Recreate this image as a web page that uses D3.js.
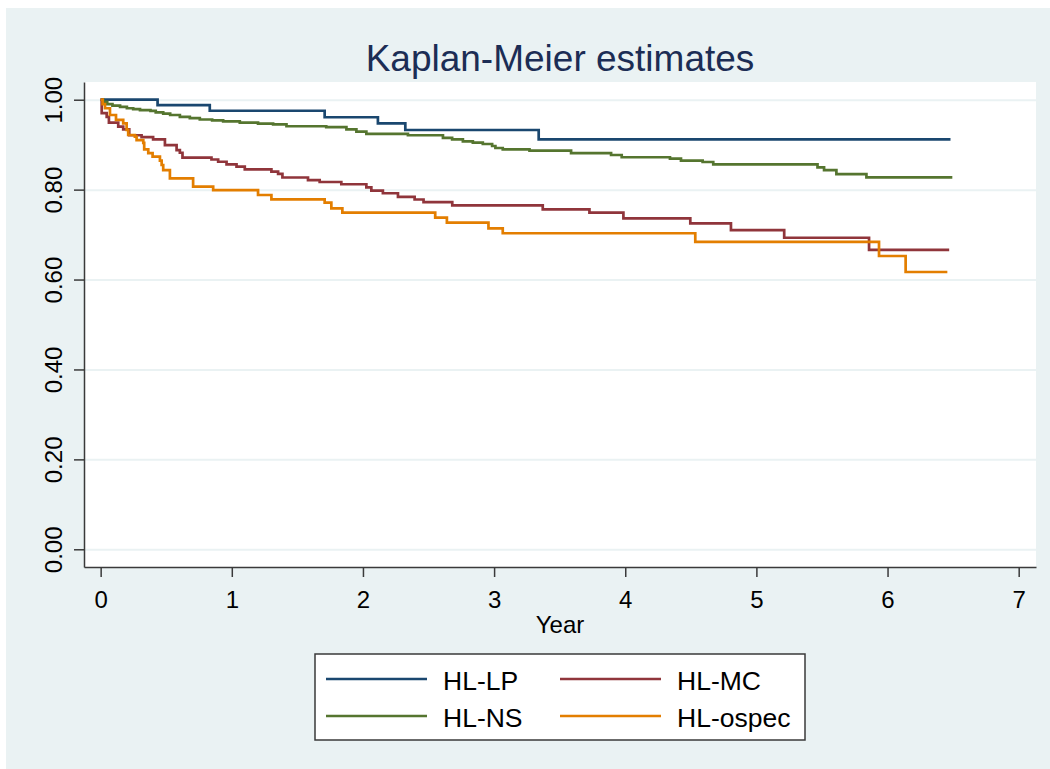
<!DOCTYPE html>
<html>
<head>
<meta charset="utf-8">
<script src="https://cdn.jsdelivr.net/npm/d3@7"></script>
<style>
  body { margin: 0; background: #ffffff; }
  svg { display: block; font-family: "Liberation Sans", Arial, sans-serif; }
  .axis text { font-size: 24px; fill: #000000; }
  .axis path, .axis line { stroke: #3a3a3a; stroke-width: 1.5px; }
  .grid line { stroke: #eaf2f3; stroke-width: 2px; }
</style>
</head>
<body>
<svg id="chart" width="1050" height="769"></svg>
<script>
// ---- data (time in years, survival estimate) ----
var seriesNames = ["HL-LP", "HL-NS", "HL-MC", "HL-ospec"];

var lpTimes = [0, 0.434, 0.832, 1.708, 2.114, 2.323, 3.34, 6.48];
var lpSurv  = [1, 0.988, 0.9755, 0.961, 0.9475, 0.9326, 0.912, 0.912];

var nsTimes = [0, 0.02, 0.05, 0.09, 0.148, 0.2, 0.248, 0.3, 0.38, 0.42, 0.477, 0.53, 0.604, 0.68, 0.756,
               0.85, 0.934, 1.061, 1.2, 1.315, 1.417, 1.72, 1.874, 1.95, 2.026, 2.343, 2.61, 2.68, 2.762,
               2.838, 2.914, 2.985, 3.01, 3.066, 3.27, 3.587, 3.892, 3.973, 4.341, 4.425, 4.59, 4.671,
               5.466, 5.516, 5.61, 5.839, 6.494];
var nsSurv  = [1, 0.995, 0.99, 0.987, 0.984, 0.981, 0.979, 0.977, 0.975, 0.972, 0.969, 0.966, 0.962, 0.959, 0.956,
               0.954, 0.952, 0.949, 0.947, 0.945, 0.941, 0.939, 0.934, 0.929, 0.924, 0.921, 0.915, 0.912, 0.9075,
               0.9044, 0.9015, 0.897, 0.8926, 0.8897, 0.8866, 0.881, 0.877, 0.872, 0.8688, 0.8643, 0.8614, 0.8563,
               0.8496, 0.8436, 0.8347, 0.8274, 0.8274];

var mcTimes = [0, 0.008, 0.046, 0.063, 0.134, 0.172, 0.218, 0.312, 0.4, 0.49, 0.579, 0.604, 0.624, 0.845,
               0.896, 0.96, 1.036, 1.099, 1.302, 1.353, 1.386, 1.581, 1.67, 1.835, 2.026, 2.064, 2.152,
               2.267, 2.394, 2.462, 2.681, 3.371, 3.727, 3.986, 4.496, 4.806, 5.212, 5.859, 6.47];
var mcSurv  = [1, 0.97, 0.962, 0.949, 0.94, 0.934, 0.921, 0.917, 0.912, 0.899, 0.888, 0.882, 0.871, 0.867,
               0.862, 0.856, 0.851, 0.845, 0.84, 0.835, 0.827, 0.821, 0.817, 0.812, 0.805, 0.798, 0.792,
               0.784, 0.778, 0.772, 0.765, 0.756, 0.749, 0.736, 0.725, 0.71, 0.693, 0.666, 0.666];

var osTimes = [0, 0.015, 0.033, 0.071, 0.117, 0.172, 0.198, 0.21, 0.261, 0.274, 0.325, 0.332, 0.363, 0.396,
               0.452, 0.465, 0.477, 0.528, 0.705, 0.858, 1.2, 1.302, 1.708, 1.759, 1.843, 2.551, 2.64,
               2.957, 3.066, 4.534, 5.935, 6.138, 6.456];
var osSurv  = [1, 0.99, 0.981, 0.966, 0.955, 0.9475, 0.933, 0.9215, 0.9177, 0.91, 0.904, 0.8897, 0.881, 0.8733,
               0.8643, 0.8548, 0.8436, 0.825, 0.8066, 0.799, 0.788, 0.7785, 0.771, 0.7584, 0.7487, 0.7376, 0.7264,
               0.714, 0.703, 0.684, 0.6524, 0.6168, 0.6168];

var xTicks = [0, 1, 2, 3, 4, 5, 6, 7];
var yTicks = [0, 0.2, 0.4, 0.6, 0.8, 1.0];

var colors = { "HL-LP": "#1a476f", "HL-NS": "#55752f", "HL-MC": "#90353b", "HL-ospec": "#e37e00" };

var series = [
  { name: "HL-LP", times: lpTimes, surv: lpSurv },
  { name: "HL-NS", times: nsTimes, surv: nsSurv },
  { name: "HL-MC", times: mcTimes, surv: mcSurv },
  { name: "HL-ospec", times: osTimes, surv: osSurv }
];

// ---- layout ----
var svgW = 1050, svgH = 769;
var margin = {top: 82, right: 14, bottom: 202, left: 84};
var width = svgW - margin.left - margin.right;
var height = svgH - margin.top - margin.bottom;

var root = d3.select("#chart");

// graph region background
root.append("rect")
    .attr("x", 6).attr("y", 8)
    .attr("width", svgW - 6).attr("height", svgH - 8)
    .attr("fill", "#eaf2f3");

// title
root.append("text")
    .attr("x", margin.left + width / 2)
    .attr("y", 71)
    .attr("text-anchor", "middle")
    .style("font-size", "37px")
    .style("fill", "#1c2d55")
    .text("Kaplan-Meier estimates");

var svg = root.append("g")
    .attr("transform", "translate(" + margin.left + "," + margin.top + ")");

// plot region
svg.append("rect")
    .attr("width", width).attr("height", height)
    .attr("fill", "#ffffff");

// ======================================================
// SET SCALES
var xScale = d3.scaleLinear()
    .domain([-0.127, 7.132])
    .range([0, width]);
var yScale = d3.scaleLinear()
    .domain([-0.0394, 1.0394])
    .range([height, 0]);

// gridlines
svg.append("g")
    .attr("class", "grid")
    .call(d3.axisLeft(yScale).tickValues(yTicks).tickSize(-width).tickFormat(""))
    .call(g => g.select(".domain").remove());

// curves
var line = d3.line()
    .curve(d3.curveStepAfter)
    .x(d => xScale(d[0]))
    .y(d => yScale(d[1]));

svg.selectAll("path.km")
    .data(series)
    .enter()
    .append("path")
    .attr("class", "km")
    .attr("fill", "none")
    .attr("stroke", d => colors[d.name])
    .attr("stroke-width", 2.7)
    .attr("stroke-linejoin", "miter")
    .attr("d", d => line(d3.zip(d.times, d.surv)));

// x axis
svg.append("g")
    .attr("class", "axis")
    .attr("transform", "translate(0," + height + ")")
    .call(d3.axisBottom(xScale)
        .tickValues(xTicks)
        .tickSize(10)
        .tickSizeOuter(0)
        .tickPadding(14)
        .tickFormat(d3.format("d")));

// y axis
svg.append("g")
    .attr("class", "axis")
    .call(d3.axisLeft(yScale)
        .tickValues(yTicks)
        .tickSize(10)
        .tickSizeOuter(0)
        .tickFormat(d3.format(".2f")))
    .selectAll("text")
        .attr("transform", "rotate(-90)")
        .attr("x", 0)
        .attr("y", -22)
        .attr("dy", "0")
        .style("text-anchor", "middle");

// axis title
svg.append("text")
    .attr("x", width / 2)
    .attr("y", 633 - margin.top)
    .attr("text-anchor", "middle")
    .style("font-size", "24px")
    .text("Year");

// legend
var legendOrder = ["HL-LP", "HL-MC", "HL-NS", "HL-ospec"];
var legend = root.append("g")
    .attr("transform", "translate(315,654)");

legend.append("rect")
    .attr("width", 490).attr("height", 86)
    .attr("fill", "#ffffff")
    .attr("stroke", "#3a3a3a")
    .attr("stroke-width", 1.5);

var item = legend.selectAll("g.item")
    .data(legendOrder)
    .enter()
    .append("g")
    .attr("class", "item")
    .attr("transform", (d, i) => "translate(" + (11 + (i % 2) * 234) + "," + (25 + Math.floor(i / 2) * 37) + ")");

item.append("line")
    .attr("x1", 0).attr("x2", 101)
    .attr("stroke", d => colors[d])
    .attr("stroke-width", 2.7);

item.append("text")
    .attr("x", 117)
    .attr("y", 11)
    .style("font-size", "26.5px")
    .text(d => d);
</script>
</body>
</html>
